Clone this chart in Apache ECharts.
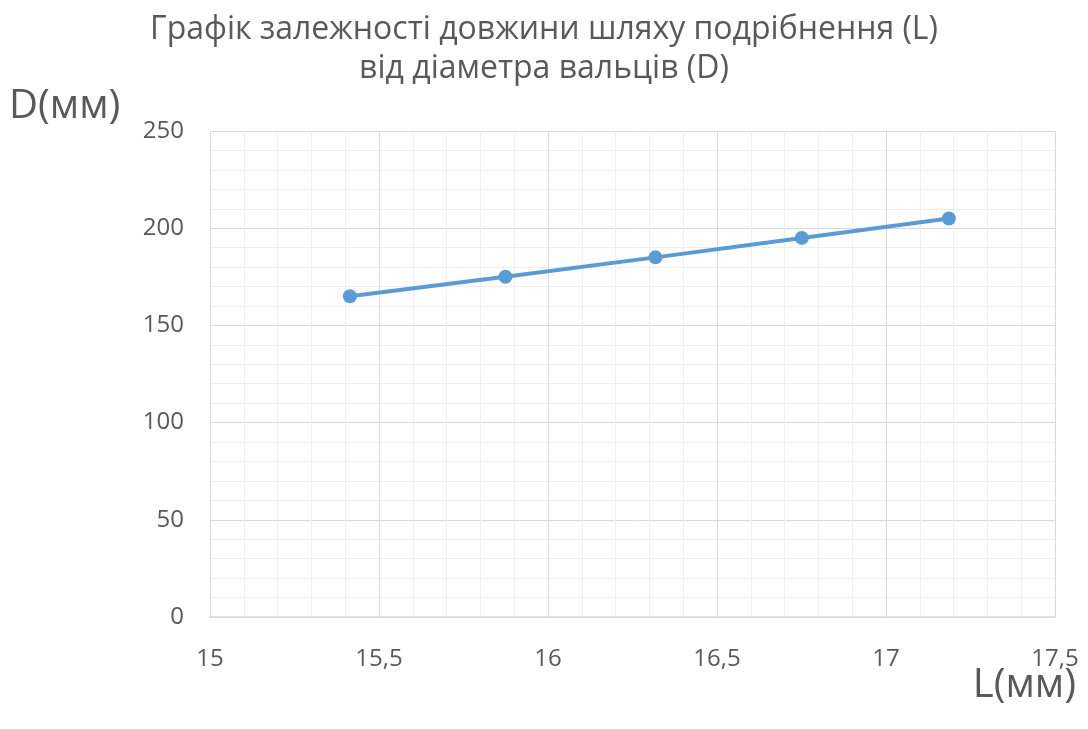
<!DOCTYPE html>
<html>
<head>
<meta charset="utf-8">
<script src="https://cdn.jsdelivr.net/npm/echarts@6/dist/echarts.min.js"></script>
<style>
  html, body { margin: 0; padding: 0; background: #ffffff; }
  #chart { width: 1088px; height: 729px; }
</style>
</head>
<body>
<div id="chart"></div>
<script>
// Path length of grinding L (mm) against roll diameter D (mm)
const lengthL = [15.414, 15.874, 16.318, 16.751, 17.186];
const diameterD = [165, 175, 185, 195, 205];
const titleLines = ['Графік залежності довжини шляху подрібнення (L)', 'від діаметра вальців (D)'];
const xAxisTitle = 'L(мм)';
const yAxisTitle = 'D(мм)';

const FONT = '"Open Sans", "Noto Sans", sans-serif';
const TEXT = '#595959';

const points = lengthL.map((x, i) => [x, diameterD[i]]);

const chart = echarts.init(document.getElementById('chart'), null, { renderer: 'canvas' });
chart.setOption({
  backgroundColor: '#ffffff',
  animation: false,
  title: {
    text: titleLines.join('\n'),
    left: 'center',
    top: 5,
    textStyle: { fontFamily: FONT, fontSize: 32, fontWeight: 'normal', color: TEXT, lineHeight: 39 }
  },
  graphic: [
    { type: 'text', left: 9, top: 87, style: { text: yAxisTitle, font: '40px ' + FONT, fill: TEXT } },
    { type: 'text', right: 12, top: 666, style: { text: xAxisTitle, font: '40px ' + FONT, fill: TEXT } }
  ],
  grid: { left: 210, right: 33, top: 131, bottom: 112, containLabel: false },
  xAxis: {
    type: 'value',
    min: 15, max: 17.5, interval: 0.5,
    axisLine: { show: true, lineStyle: { color: '#d9d9d9', width: 1.5 } },
    axisTick: { show: false },
    axisLabel: {
      margin: 30, fontFamily: FONT, fontSize: 24, color: TEXT,
      formatter: v => String(v).replace('.', ',')
    },
    splitLine: { show: true, lineStyle: { color: '#d9d9d9', width: 1 } },
    minorTick: { show: false, splitNumber: 5 },
    minorSplitLine: { show: true, lineStyle: { color: '#efefef', width: 1 } }
  },
  yAxis: {
    type: 'value',
    min: 0, max: 250, interval: 50,
    axisLine: { show: false },
    axisTick: { show: false },
    axisLabel: { margin: 26, fontFamily: FONT, fontSize: 24, color: TEXT },
    splitLine: { show: true, lineStyle: { color: '#d9d9d9', width: 1 } },
    minorTick: { show: false, splitNumber: 5 },
    minorSplitLine: { show: true, lineStyle: { color: '#efefef', width: 1 } }
  },
  series: [{
    type: 'line',
    data: points,
    symbol: 'circle',
    symbolSize: 14,
    lineStyle: { color: '#5b9bd5', width: 4 },
    itemStyle: { color: '#5b9bd5' }
  }]
});
</script>
</body>
</html>
